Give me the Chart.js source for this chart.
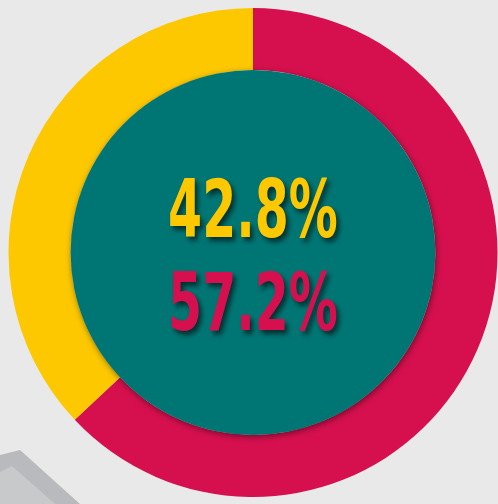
<!DOCTYPE html>
<html>
<head>
<meta charset="utf-8">
<script src="https://cdn.jsdelivr.net/npm/chart.js@4.4.0/dist/chart.umd.min.js"></script>
<style>
  html, body { margin: 0; padding: 0; background: #e9e9e9; }
  #wrap { position: relative; width: 498px; height: 504px; overflow: hidden; }
  #deco { position: absolute; left: 0; top: 0; width: 498px; height: 504px; }
  #deco div { position: absolute; }
  #chart { position: absolute; left: 0; top: 0; }
</style>
</head>
<body>
<div id="wrap">
  <div id="deco">
    <div style="left:0;top:0;width:498px;height:504px;background:#b9babd;clip-path:polygon(0 455px,20px 450px,80px 504px,0 504px);"></div>
    <div style="left:0;top:0;width:498px;height:504px;background:#c8c9cb;clip-path:polygon(0 472px,12px 466px,55px 504px,0 504px);"></div>
  </div>
  <canvas id="chart" width="498" height="504"></canvas>
</div>
<script>
// share of the ring as drawn in the picture (red first, clockwise from the top)
const categories = ['Red', 'Yellow'];
const arcShares = [63, 37];
// the numbers printed in the centre
const centreLabels = ['42.8%', '57.2%'];
const centreColors = ['#fdc800', '#d6104e'];

const ringColors = ['#d6104e', '#fdc800'];
const holeColor = '#007674';

const centrePlugin = {
  id: 'centre',
  afterDatasetsDraw(chart) {
    const arc = chart.getDatasetMeta(0).data[0];
    if (!arc) return;
    const ctx = chart.ctx;
    const x = arc.x;
    const y = arc.y;
    const r = arc.innerRadius;

    // teal hole with a soft shadow on the ring
    ctx.save();
    ctx.shadowColor = 'rgba(0,0,0,0.45)';
    ctx.shadowBlur = 6;
    ctx.shadowOffsetX = 1;
    ctx.shadowOffsetY = 2;
    ctx.beginPath();
    ctx.arc(x, y, r, 0, Math.PI * 2);
    ctx.fillStyle = holeColor;
    ctx.fill();
    ctx.restore();

    // the two percentages, squeezed to look condensed
    const offsets = [-43, 54];
    centreLabels.forEach((txt, i) => {
      ctx.save();
      ctx.translate(x, y + offsets[i] + (i === 0 ? 7 : 3));
      ctx.scale(0.68, 1);
      ctx.font = 'bold 80px "DejaVu Sans Condensed", sans-serif';
      ctx.textAlign = 'center';
      ctx.textBaseline = 'middle';
      ctx.shadowColor = 'rgba(0,0,0,0.6)';
      ctx.shadowBlur = 5;
      ctx.shadowOffsetX = 3;
      ctx.shadowOffsetY = 4;
      ctx.fillStyle = centreColors[i];
      ctx.fillText(txt, 0, 0);
      ctx.restore();
    });
  }
};

new Chart(document.getElementById('chart').getContext('2d'), {
  type: 'doughnut',
  data: {
    labels: categories,
    datasets: [{
      data: arcShares,
      backgroundColor: ringColors,
      borderWidth: 0,
      hoverOffset: 0
    }]
  },
  options: {
    responsive: false,
    animation: false,
    cutout: '74.6%',
    layout: { padding: { left: 8, right: 0, top: 8, bottom: 7 } },
    plugins: {
      legend: { display: false },
      tooltip: { enabled: false }
    }
  },
  plugins: [centrePlugin]
});
</script>
</body>
</html>
